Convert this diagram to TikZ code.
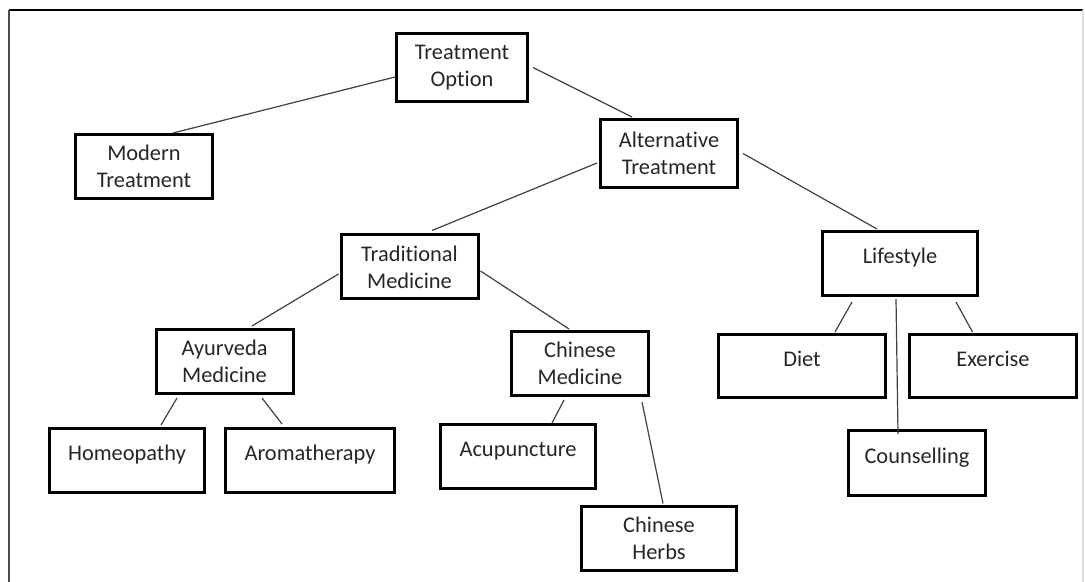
\documentclass[tikz,border=0pt]{standalone}
\usepackage{fontspec}
\setmainfont{Carlito}[Ligatures=NoCommon]
\usepackage{xcolor}
\usepackage{tikz}
\usetikzlibrary{positioning}
\definecolor{boxtext}{RGB}{38,38,38}

\begin{document}
\begin{tikzpicture}[
    x=0.5pt, y=-0.5pt,
    box/.style={rectangle, draw, line width=1.5pt, inner sep=0pt,
        minimum width=68.5pt, minimum height=32pt, align=center,
        text=boxtext, font=\fontsize{11.2}{13.5}\selectfont},
    single/.style={text height=4pt, text depth=4pt},
    link/.style={draw=black!75, line width=0.6pt}
]
    \useasboundingbox (0,0) rectangle (1085,582);

    % Frame
    \draw[line width=1.1pt] (9,10) -- (1083,10);
    \draw[black!70, line width=0.6pt] (9,10) -- (9,582);
    \draw[black!12, line width=0.6pt] (1083,10) -- (1083,582);

    % Top layer
    \node[box, minimum width=65.5pt, minimum height=34pt] (opt) at (462,67.5) {Treatment\\Option};
    \node[box] (modern) at (144,166.5) {Modern\\Treatment};
    \node[box, minimum height=34pt] (alt) at (669,153.5) {Alternative\\Treatment};

    % Middle layer
    \node[box] (trad) at (409.5,267) {Traditional\\Medicine};
    \node[box, single, minimum width=77.5pt] (life) at (900,263.5) {Lifestyle};
    \node[box] (ayur) at (224.5,361.5) {Ayurveda\\Medicine};
    \node[box] (chmed) at (580,363.5) {Chinese\\Medicine};
    \node[box, single, minimum width=83.5pt, minimum height=31.5pt] (diet) at (802,366) {Diet};
    \node[box, single, minimum width=83.5pt, minimum height=31.5pt] (exer) at (993,366) {Exercise};

    % Bottom layer
    \node[box, single, minimum width=77.5pt] (homeo) at (127,460.5) {Homeopathy};
    \node[box, single, minimum width=84.5pt] (aroma) at (310,460.5) {Aromatherapy};
    \node[box, single, minimum width=77.5pt] (acup) at (518,456.5) {Acupuncture};
    \node[box, single, minimum height=32.5pt] (couns) at (917,463) {Counselling};
    \node[box, minimum width=77.5pt] (herbs) at (659,538) {Chinese\\Herbs};

    % Links
    \draw[link] ([shift={(0,9.5)}]opt.west) -- ([shift={(29,0)}]modern.north);
    \draw[link] ([shift={(4,0)}]opt.east) -- ([shift={(-37,-1)}]alt.north);
    \draw[link] ([shift={(-2,9.5)}]alt.west) -- ([shift={(22.5,-3)}]trad.north);
    \draw[link] ([shift={(4,0)}]alt.east) -- ([shift={(-23,-1)}]life.north);
    \draw[link] ([shift={(-1,7)}]trad.west) -- ([shift={(27.5,-2)}]ayur.north);
    \draw[link] ([shift={(1,4)}]trad.east) -- ([shift={(-11,-1)}]chmed.north);
    \draw[link] ([shift={(-47.5,3)}]ayur.south) -- ([shift={(34,-2)}]homeo.north);
    \draw[link] ([shift={(37.5,3)}]ayur.south) -- ([shift={(-28,-3)}]aroma.north);
    \draw[link] ([shift={(-16,3)}]chmed.south) -- ([shift={(34,0)}]acup.north);
    \draw[link] ([shift={(62,5)}]chmed.south) -- ([shift={(4,-1)}]herbs.north);
    \draw[link] ([shift={(-48,5)}]life.south) -- ([shift={(33,-1)}]diet.north);
    \draw[link] ([shift={(56,5)}]life.south) -- ([shift={(-20.5,-1)}]exer.north);
    \draw[link] ([shift={(-4,2)}]life.south) -- ([shift={(-19,5)}]couns.north);
\end{tikzpicture}
\end{document}
